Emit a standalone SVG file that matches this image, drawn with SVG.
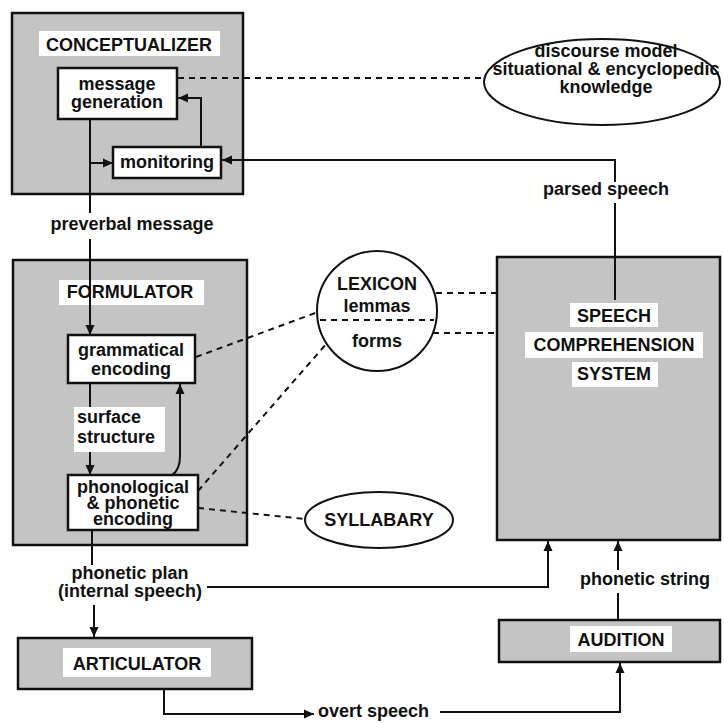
<svg xmlns="http://www.w3.org/2000/svg" width="724" height="723" viewBox="0 0 724 723">
<defs>
<marker id="ah" viewBox="0 0 10 10" refX="10" refY="5" markerWidth="10" markerHeight="10" markerUnits="userSpaceOnUse" orient="auto">
<path d="M0,0.5 L10,5 L0,9.5 z" fill="#111"/>
</marker>
<style>
.sys{fill:#c4c4c4;stroke:#111;stroke-width:2.5}
.box{fill:#fff;stroke:#111;stroke-width:2.5}
.lbl{fill:#fff;stroke:none}
.oval{fill:#fff;stroke:#111;stroke-width:2}
text{font-family:"Liberation Sans",Arial,sans-serif;font-weight:bold;font-size:18px;fill:#111;text-anchor:middle}
.l{text-anchor:start}
.s{font-size:17px}
.c{fill:none;stroke:#111;stroke-width:2}
.a{marker-end:url(#ah)}
.d{fill:none;stroke:#111;stroke-width:2;stroke-dasharray:6 5}
</style>
</defs>

<g id="conceptualizer">
<rect class="sys" x="12" y="13" width="231" height="181"/>
<rect class="lbl" x="39" y="31" width="181" height="25"/>
<text x="129" y="51">CONCEPTUALIZER</text>
</g>

<g id="formulator">
<rect class="sys" x="13" y="260" width="234" height="285"/>
<rect class="lbl" x="59" y="280" width="145" height="25"/>
<text x="130" y="298">FORMULATOR</text>
</g>

<g id="articulator">
<rect class="sys" x="18" y="638" width="234" height="51"/>
<rect class="lbl" x="63" y="648" width="148" height="29"/>
<text x="137" y="670">ARTICULATOR</text>
</g>

<g id="speech-comprehension">
<rect class="sys" x="497" y="257" width="223" height="283"/>
</g>

<g id="audition">
<rect class="sys" x="499" y="620" width="221" height="42"/>
<rect class="lbl" x="570" y="626" width="102" height="26"/>
<text x="621" y="646">AUDITION</text>
</g>

<g id="connectors">
<path class="c" d="M90,119 V213"/>
<path class="c a" d="M90,239 V335"/>
<path class="c a" d="M90,163 H113"/>
<path class="c a" d="M201,147 V98 H178"/>
<path class="c" d="M615,300 V203"/>
<path class="c a" d="M615,182 V160 H222"/>
<path class="c a" d="M90,383 V475"/>
<path class="c a" d="M172,475 Q180,470 180,456 V384"/>
<path class="c" d="M92,530 V565"/>
<path class="c a" d="M94,605 V637"/>
<path class="c a" d="M207,587 H548 V541"/>
<path class="c a" d="M164,689 V714 H314"/>
<path class="c a" d="M440,712 H620 V663"/>
<path class="c" d="M618,620 V593"/>
<path class="c a" d="M618,570 V541"/>
<path class="d" d="M178,78 H485"/>
<path class="d" d="M196,357 L318,312"/>
<path class="d" d="M198,491 L327,343"/>
<path class="d" d="M198,508 L305,519"/>
<path class="d" d="M436,293 H497"/>
<path class="d" d="M433,333 H497"/>
</g>

<g id="speech-comprehension-labels">
<rect class="lbl" x="570" y="303" width="88" height="24"/>
<text x="614" y="322">SPEECH</text>
<rect class="lbl" x="525" y="332" width="178" height="26"/>
<text x="614" y="351">COMPREHENSION</text>
<rect class="lbl" x="572" y="362" width="86" height="25"/>
<text x="614" y="380">SYSTEM</text>
</g>

<g id="message-generation">
<rect class="box" x="58" y="68" width="119" height="51"/>
<text x="117" y="90">message</text>
<text x="117" y="108">generation</text>
</g>

<g id="monitoring">
<rect class="box" x="113" y="147" width="108" height="31"/>
<text x="167" y="168">monitoring</text>
</g>

<g id="grammatical-encoding">
<rect class="box" x="68" y="335" width="127" height="48"/>
<text x="131" y="356">grammatical</text>
<text x="131" y="375">encoding</text>
</g>

<g id="surface-structure">
<rect class="lbl" x="74" y="407" width="91" height="45"/>
<text class="l" x="77" y="423">surface</text>
<text class="l" x="77" y="443">structure</text>
</g>

<g id="phonological-encoding">
<rect class="box" x="68" y="475" width="130" height="55"/>
<text x="133" y="493">phonological</text>
<text x="133" y="509">&amp; phonetic</text>
<text x="133" y="525">encoding</text>
</g>

<g id="discourse-model">
<ellipse class="oval" cx="602" cy="82" rx="118" ry="43"/>
<text x="606" y="57">discourse model</text>
<text x="606" y="75">situational &amp; encyclopedic</text>
<text x="606" y="93">knowledge</text>
</g>

<g id="lexicon">
<circle class="oval" cx="377" cy="311" r="60"/>
<path class="d" d="M320,320 H434"/>
<text x="377" y="290">LEXICON</text>
<text x="377" y="312">lemmas</text>
<text x="377" y="347">forms</text>
</g>

<g id="syllabary">
<ellipse class="oval" cx="379" cy="520" rx="74" ry="28"/>
<text x="379" y="526">SYLLABARY</text>
</g>

<g id="labels">
<text x="132" y="230">preverbal message</text>
<text x="606" y="195">parsed speech</text>
<text x="130" y="579">phonetic plan</text>
<text x="130" y="597">(internal speech)</text>
<text class="l" x="318" y="717">overt speech</text>
<text x="645" y="585">phonetic string</text>
</g>
</svg>
